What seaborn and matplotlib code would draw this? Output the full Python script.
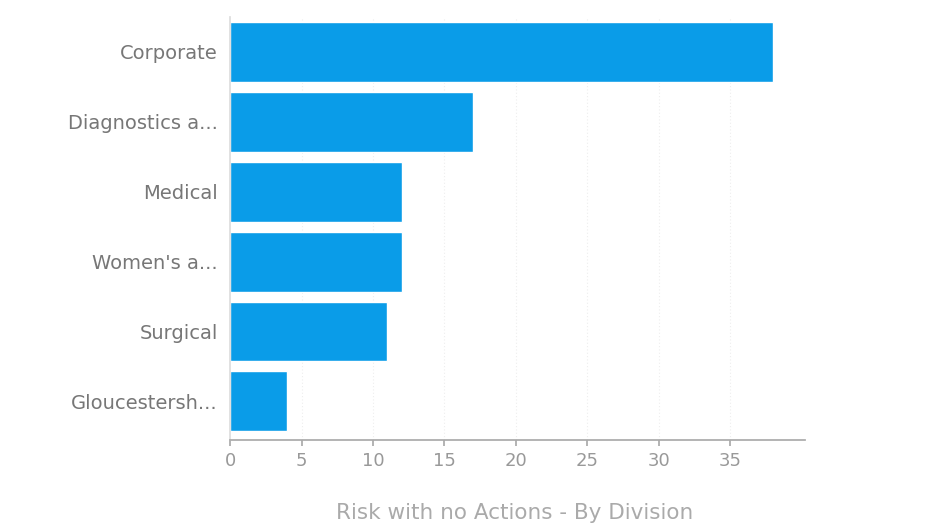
import matplotlib
matplotlib.use("Agg")
import matplotlib.pyplot as plt
import seaborn as sns
import pandas as pd

divisions = ["Corporate", "Diagnostics a...", "Medical", "Women's a...", "Surgical", "Gloucestersh..."]
risks = [38, 17, 12, 12, 11, 4]
x_ticks = [0, 5, 10, 15, 20, 25, 30, 35]
title = "Risk with no Actions - By Division"

df = pd.DataFrame({"Division": divisions, "Risks": risks})

sns.set_theme(style="white")
plt.rcParams['font.family'] = ['DejaVu Sans']

fig = plt.figure(figsize=(9.28, 5.28), dpi=100)
ax = fig.add_axes([0.248, 0.167, 0.619, 0.801])

sns.barplot(data=df, y="Division", x="Risks", orient="h", color="#0a9ce8",
            saturation=1, width=0.857, ax=ax)

ax.set_xlim(0, 40.2)
ax.set_ylim(5.55, -0.5)
ax.set_xticks(x_ticks)
ax.set_xticklabels([str(t) for t in x_ticks])
ax.set_xlabel("")
ax.set_ylabel("")
for x in x_ticks[1:]:
    ax.axvline(x, color="#eeeeee", lw=0.8, ls=(0, (1, 2)), zorder=0)
ax.set_axisbelow(True)

for s in ["top", "right"]:
    ax.spines[s].set_visible(False)
ax.spines["left"].set_color("#dddddd")
ax.spines["bottom"].set_color("#aaaaaa")
ax.tick_params(axis="x", colors="#aaaaaa", labelcolor="#999999", labelsize=13,
               length=4, bottom=True, pad=5)
ax.tick_params(axis="y", length=0, labelcolor="#777777", labelsize=14, pad=9)

fig.text(0.555, 0.028, title, ha="center", va="center", fontsize=15.5, color="#aaaaaa")

fig.savefig("out.png", dpi=100)
